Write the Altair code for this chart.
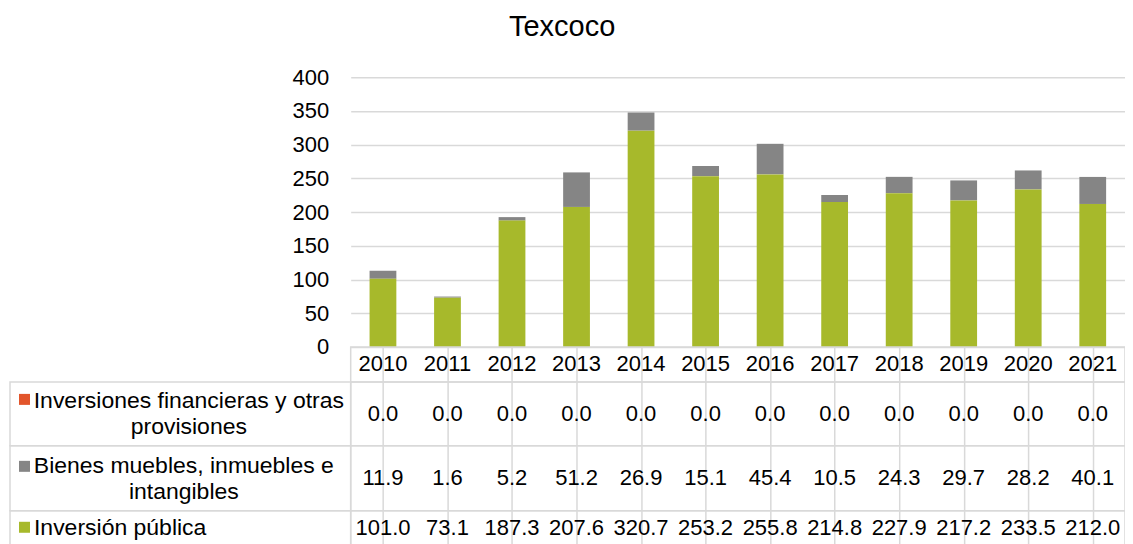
import altair as alt
import pandas as pd

years = ["2010", "2011", "2012", "2013", "2014", "2015", "2016", "2017", "2018", "2019", "2020", "2021"]
series = ["Inversiones financieras y otras provisiones",
          "Bienes muebles, inmuebles e intangibles",
          "Inversión pública"]
series_labels = ["Inversiones financieras y otras\nprovisiones",
                 "Bienes muebles, inmuebles e\nintangibles",
                 "Inversión pública"]
colors = ["#E2552B", "#858585", "#A7B92B"]

inv_financieras = [0.0] * 12
bienes = [11.9, 1.6, 5.2, 51.2, 26.9, 15.1, 45.4, 10.5, 24.3, 29.7, 28.2, 40.1]
inversion_publica = [101.0, 73.1, 187.3, 207.6, 320.7, 253.2, 255.8, 214.8, 227.9, 217.2, 233.5, 212.0]
values = [inv_financieras, bienes, inversion_publica]
stack_order = [2, 1, 0]

y_ticks = [0, 50, 100, 150, 200, 250, 300, 350, 400]

FONT = "Liberation Sans"
GRID = "#D9D9D9"
FS = 22
LFS = 23

rows = []
for s, vals, o in zip(series, values, stack_order):
    for y, v in zip(years, vals):
        rows.append({"year": y, "series": s, "value": v, "ord": o})
df = pd.DataFrame(rows)

color_scale = alt.Scale(domain=series, range=colors)

W = 775

bars = alt.Chart(df).mark_bar().encode(
    x=alt.X("year:O", sort=years,
            scale=alt.Scale(paddingInner=0.585, paddingOuter=0.2925), axis=None),
    y=alt.Y("value:Q", stack="zero", scale=alt.Scale(domain=[0, 400]),
            axis=alt.Axis(values=y_ticks, title=None, domain=False, ticks=False,
                          labelFontSize=FS, labelColor="#000000", labelPadding=22,
                          gridColor=GRID, gridWidth=1.5)),
    color=alt.Color("series:N", scale=color_scale, legend=None),
    order=alt.Order("ord:Q", sort="ascending"),
).properties(width=W, height=270, view=alt.ViewBackground(stroke="transparent"))

xtab = alt.X("year:O", sort=years, scale=alt.Scale(paddingInner=0, paddingOuter=0),
             axis=alt.Axis(grid=True, gridColor=GRID, gridWidth=1.5, ticks=False,
                           labels=False, domain=False, title=None, bandPosition=0))

hdr_df = pd.DataFrame({"year": years})
header = alt.Chart(hdr_df).mark_text(fontSize=FS, color="#000000").encode(
    x=xtab, text="year:N"
).properties(width=W, height=35,
             view=alt.ViewBackground(stroke=GRID, strokeWidth=1.5))


def row_chart(i, h, key_dy, text_dy, label_x, label_align):
    d = df[df["series"] == series[i]]
    lab = pd.DataFrame({"series": [series[i]], "label": [series_labels[i]]})
    vals = alt.Chart(d).mark_text(fontSize=FS, color="#000000").encode(
        x=xtab, text=alt.Text("value:Q", format=".1f"))
    cell = alt.Chart(lab).mark_rect(fill="transparent", stroke=GRID, strokeWidth=1.5).encode(
        x=alt.value(-341), x2=alt.value(0), y=alt.value(0), y2=alt.value(h))
    key = alt.Chart(lab).mark_square(size=121, opacity=1, yOffset=key_dy).encode(
        x=alt.value(-326.5),
        color=alt.Color("series:N", scale=color_scale, legend=None))
    txt = alt.Chart(lab).mark_text(fontSize=LFS, color="#000000", lineBreak="\n",
                                   align=label_align, lineHeight=26, dy=text_dy).encode(
        x=alt.value(label_x), text="label:N")
    return alt.layer(cell, vals, key, txt).properties(
        width=W, height=h, view=alt.ViewBackground(stroke=GRID, strokeWidth=1.5))


r1 = row_chart(0, 64, -14.5, -13, -162, "center")
r2 = row_chart(1, 65, -12, -12, -167, "center")
r3 = row_chart(2, 35, -1, 0, -317, "left")

chart = alt.vconcat(bars, header, r1, r2, r3, spacing=0, bounds="flush").resolve_scale(
    x="independent"
).properties(
    title=alt.TitleParams("Texcoco", fontSize=29, font=FONT, fontWeight="normal",
                          color="#000000", anchor="middle", dx=-5, offset=24),
    padding={"left": 0, "top": 4, "right": -1, "bottom": 0},
).configure(font=FONT)

chart.save("out.html", embed_options={"renderer": "svg", "actions": False})
